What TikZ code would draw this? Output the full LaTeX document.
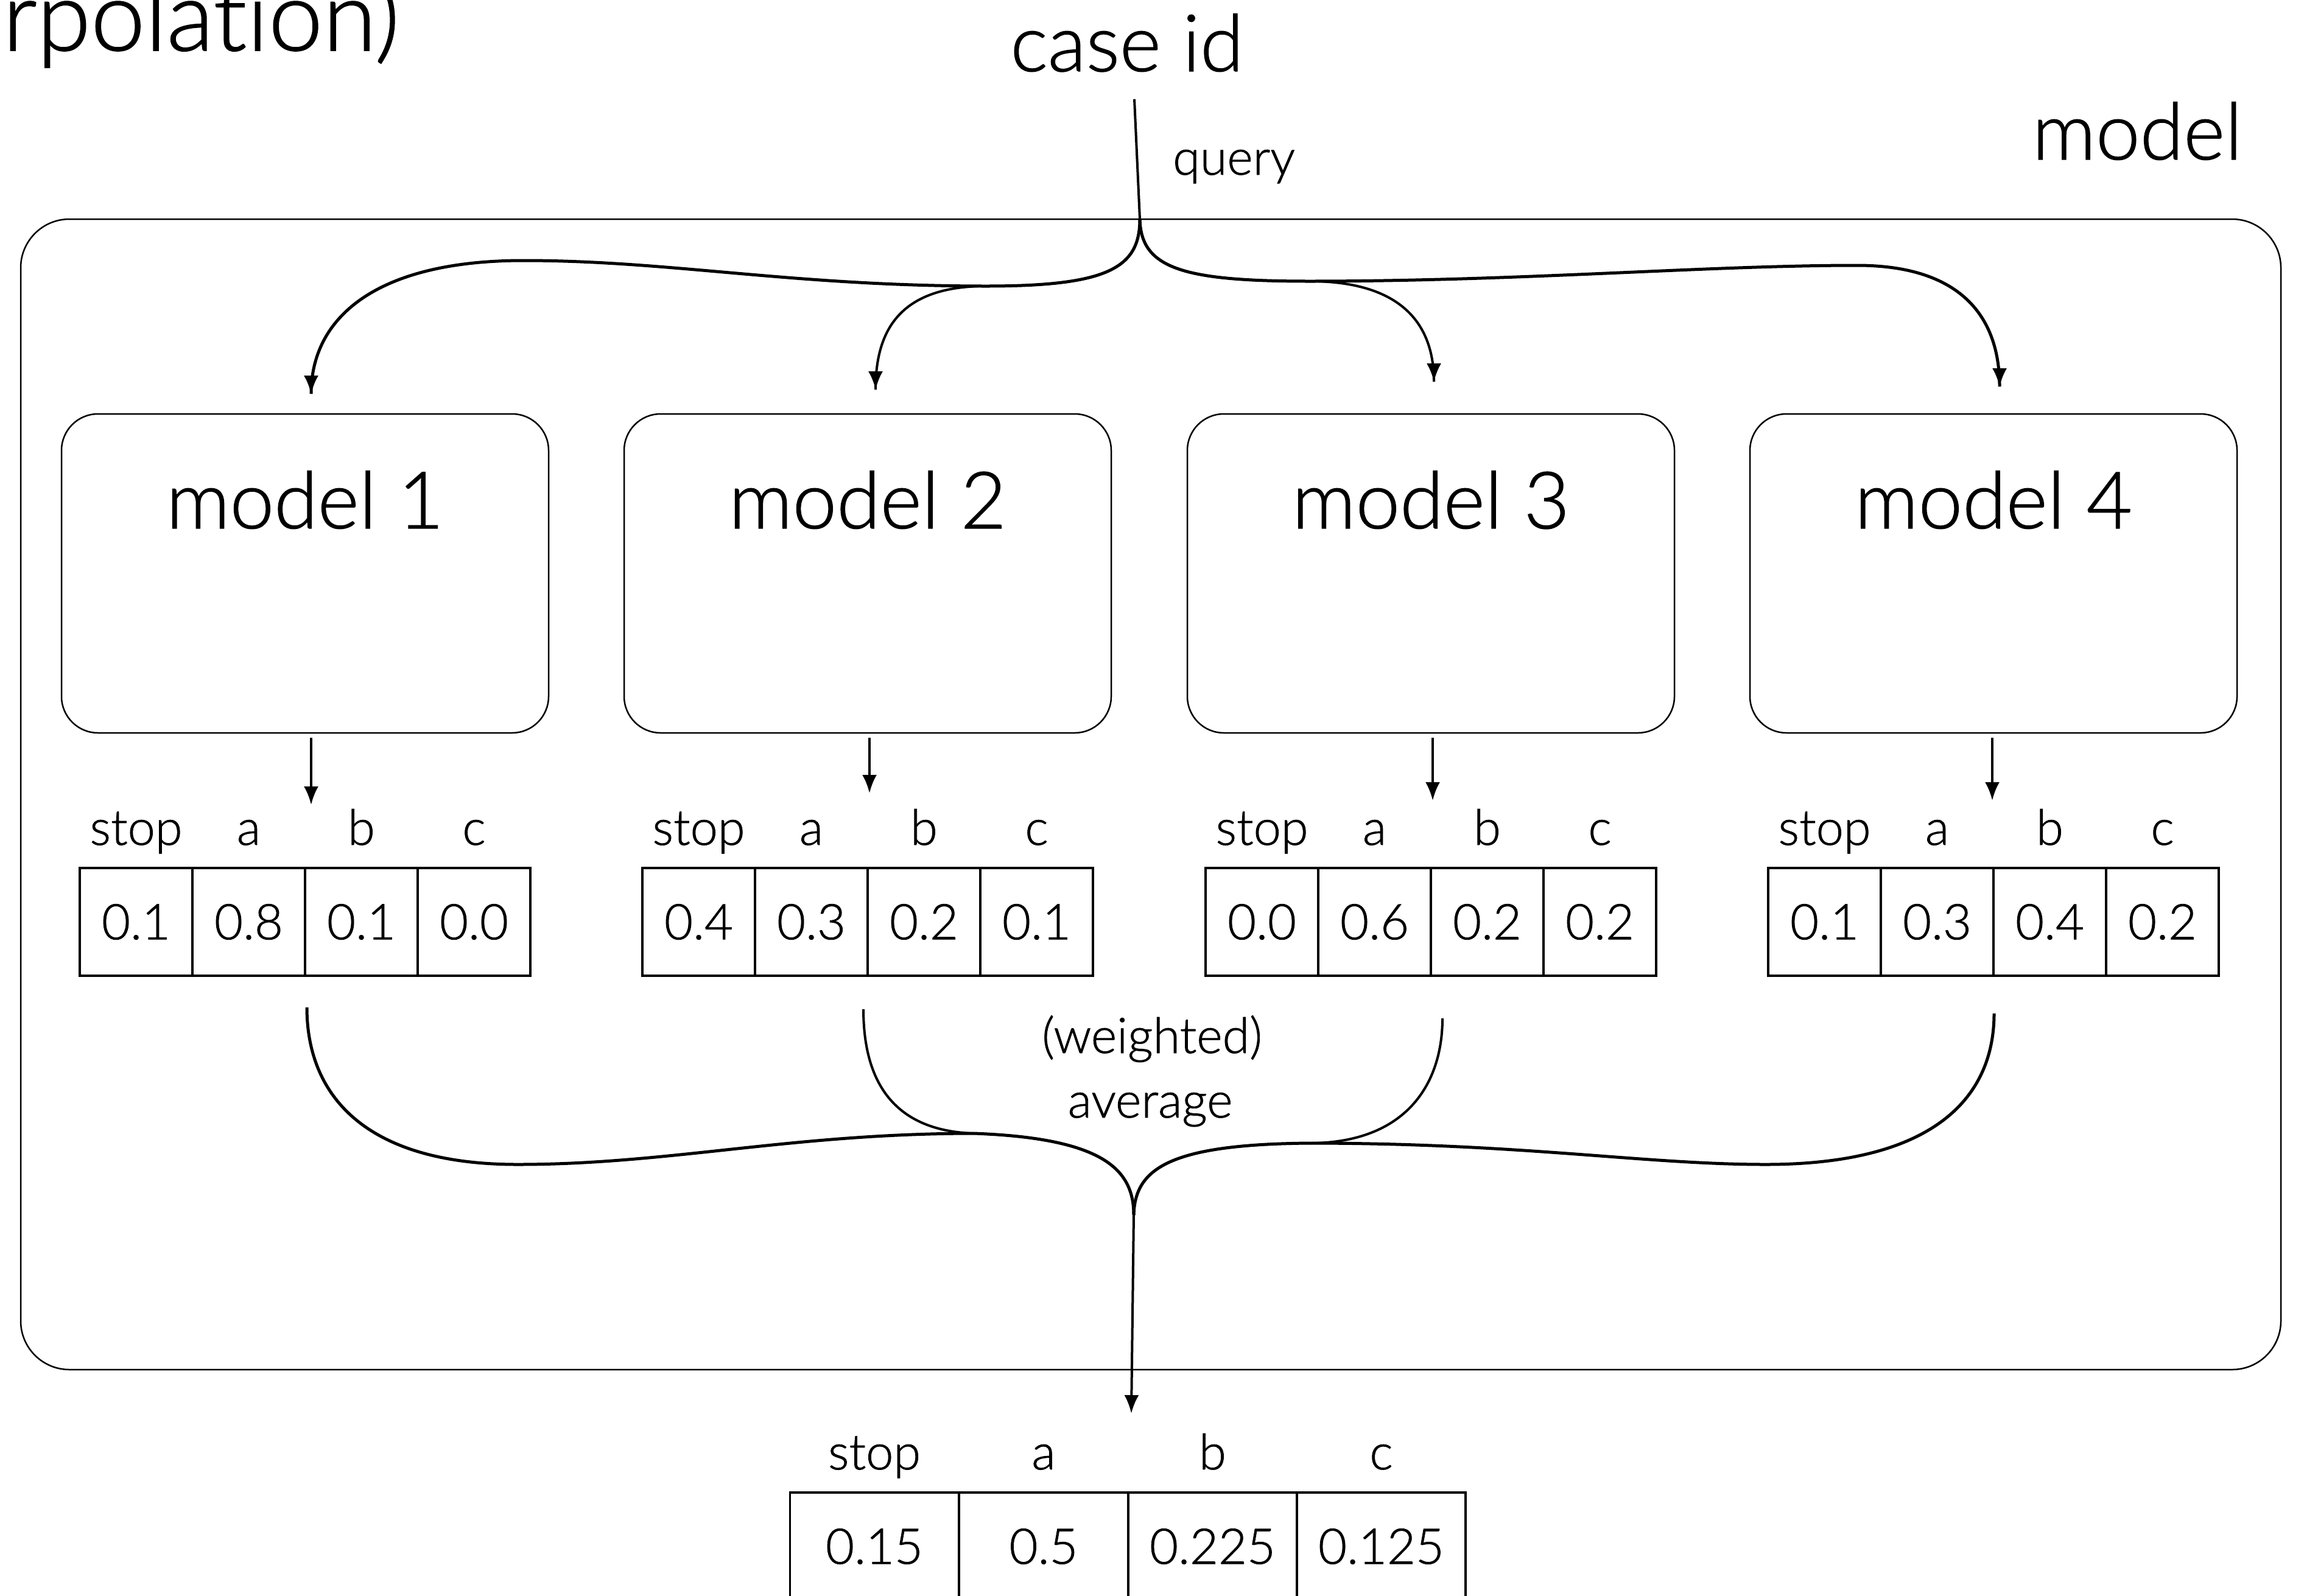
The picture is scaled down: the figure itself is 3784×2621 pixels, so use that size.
\documentclass[tikz,border=0pt]{standalone}
\usepackage{fontspec}
\setmainfont{Lato Light}[Ligatures=NoCommon, FakeBold=1]
\usetikzlibrary{arrows.meta}
\begin{document}
\begin{tikzpicture}[x=1pt,y=-1pt,
  big/.style={font=\fontsize{130}{140}\selectfont, inner sep=0pt},
  huge/.style={font=\fontsize{160}{170}\selectfont, inner sep=0pt},
  med/.style={font=\fontsize{81}{90}\selectfont, inner sep=0pt},
  mbox/.style={draw, line width=2.5pt, rounded corners=60pt, minimum width=800pt, minimum height=524pt, inner sep=0pt},
  cell/.style={draw, line width=3.5pt, minimum width=185pt, minimum height=177pt, inner sep=0pt, font=\fontsize{81}{90}\selectfont},
  bcell/.style={cell, minimum width=277pt},
  tree/.style={line width=5pt},
  twig/.style={line width=4pt},
  arr/.style={line width=4pt, -{Latex[length=30pt,width=24pt]}},
]
\useasboundingbox (0,0) rectangle (3784,2621);

% titles
\node[huge, anchor=base west] (title) at (4,83) {rpolat\kern0pt ion)};
\node[big, anchor=base] (caseid) at (1851,117) {case id};
\node[med, anchor=base west] (query) at (1926,287) {query};
\node[big, anchor=base east] (modeltitle) at (3683,262) {model};

% outer box
\draw[line width=2.5pt, rounded corners=80pt] (34,360) rectangle (3746,2250);

% model boxes, arrows, tables
\foreach \i/\c/\ax/\ay/\va/\vb/\vc/\vd in {
  1/501/511/1322/0.1/0.8/0.1/0.0,
  2/1425/1428/1303/0.4/0.3/0.2/0.1,
  3/2350/2353/1315/0.0/0.6/0.2/0.2,
  4/3274/3272/1315/0.1/0.3/0.4/0.2}{
  \node[mbox] (m\i) at (\c,942) {};
  \node[big, anchor=base] (m\i t) at (\c,868) {model \i};
  \coordinate (o\i) at (\ax,1212);
  \coordinate (p\i) at (\ax,\ay);
  \draw[arr] (o\i) -- (p\i);
  \node[cell] (t\i a) at (\c-277.5,1514.5) {\va};
  \node[cell] (t\i b) at (\c-92.5,1514.5) {\vb};
  \node[cell] (t\i c) at (\c+92.5,1514.5) {\vc};
  \node[cell] (t\i d) at (\c+277.5,1514.5) {\vd};
  \node[med, anchor=base] (l\i a) at (\c-277.5,1388) {stop};
  \node[med, anchor=base] (l\i b) at (\c-92.5,1388) {a};
  \node[med, anchor=base] (l\i c) at (\c+92.5,1388) {b};
  \node[med, anchor=base] (l\i d) at (\c+277.5,1388) {c};
}

% top tree
\coordinate (q0) at (1863,163);
\coordinate (J) at (1872,360);
\coordinate (d1) at (511,647);
\coordinate (d2) at (1438,640);
\coordinate (d3) at (2355,627);
\coordinate (d4) at (3284,635);
\draw[line width=4pt] (q0) -- (J);
\draw[tree] (J) .. controls (1872,440) and (1820,470) .. (1620,470)
  .. controls (1300,470) and (1100,428) .. (860,428)
  .. controls (620,428) and (511,520) .. (d1);
\draw[twig] (J) .. controls (1872,440) and (1820,470) .. (1620,470)
  .. controls (1480,470) and (1438,540) .. (d2);
\draw[twig] (J) .. controls (1874,440) and (1940,462) .. (2150,462)
  .. controls (2310,462) and (2355,540) .. (d3);
\draw[tree] (J) .. controls (1874,440) and (1940,462) .. (2150,462)
  .. controls (2500,462) and (2800,436) .. (3050,436)
  .. controls (3220,436) and (3284,520) .. (d4);
\draw[arr] (d1) -- ++(0,0.1);
\draw[arr] (d2) -- ++(0,0.1);
\draw[arr] (d3) -- ++(0,0.1);
\draw[arr] (d4) -- ++(0,0.1);

% bottom tree
\coordinate (JB) at (1862,1996);
\coordinate (B) at (1858,2322);
\coordinate (u1) at (504,1655);
\coordinate (u2) at (1418,1658);
\coordinate (u3) at (2369,1673);
\coordinate (u4) at (3275,1665);
\draw[tree] (JB) .. controls (1862,1920) and (1810,1870) .. (1600,1862)
  .. controls (1300,1862) and (1100,1913) .. (850,1913)
  .. controls (600,1913) and (504,1800) .. (u1);
\draw[twig] (JB) .. controls (1862,1920) and (1810,1870) .. (1600,1862)
  .. controls (1470,1858) and (1418,1780) .. (u2);
\draw[twig] (JB) .. controls (1864,1920) and (1920,1880) .. (2150,1878)
  .. controls (2310,1878) and (2369,1780) .. (u3);
\draw[tree] (JB) .. controls (1864,1920) and (1920,1880) .. (2150,1878)
  .. controls (2500,1878) and (2700,1913) .. (2900,1913)
  .. controls (3180,1913) and (3275,1800) .. (u4);
\draw[arr] (JB) -- (B);

\node[med, anchor=base] (w1) at (1892,1730) {(weighted)};
\node[med, anchor=base] (w2) at (1889,1836) {average};

% result table
\foreach \n/\x/\v/\l in {a/1436/0.15/stop, b/1714/0.5/a, c/1991.5/0.225/b, d/2268.5/0.125/c}{
  \node[bcell] (r\n) at (\x,2540.5) {\v};
  \node[med, anchor=base] (rl\n) at (\x,2414) {\l};
}
\end{tikzpicture}
\end{document}
